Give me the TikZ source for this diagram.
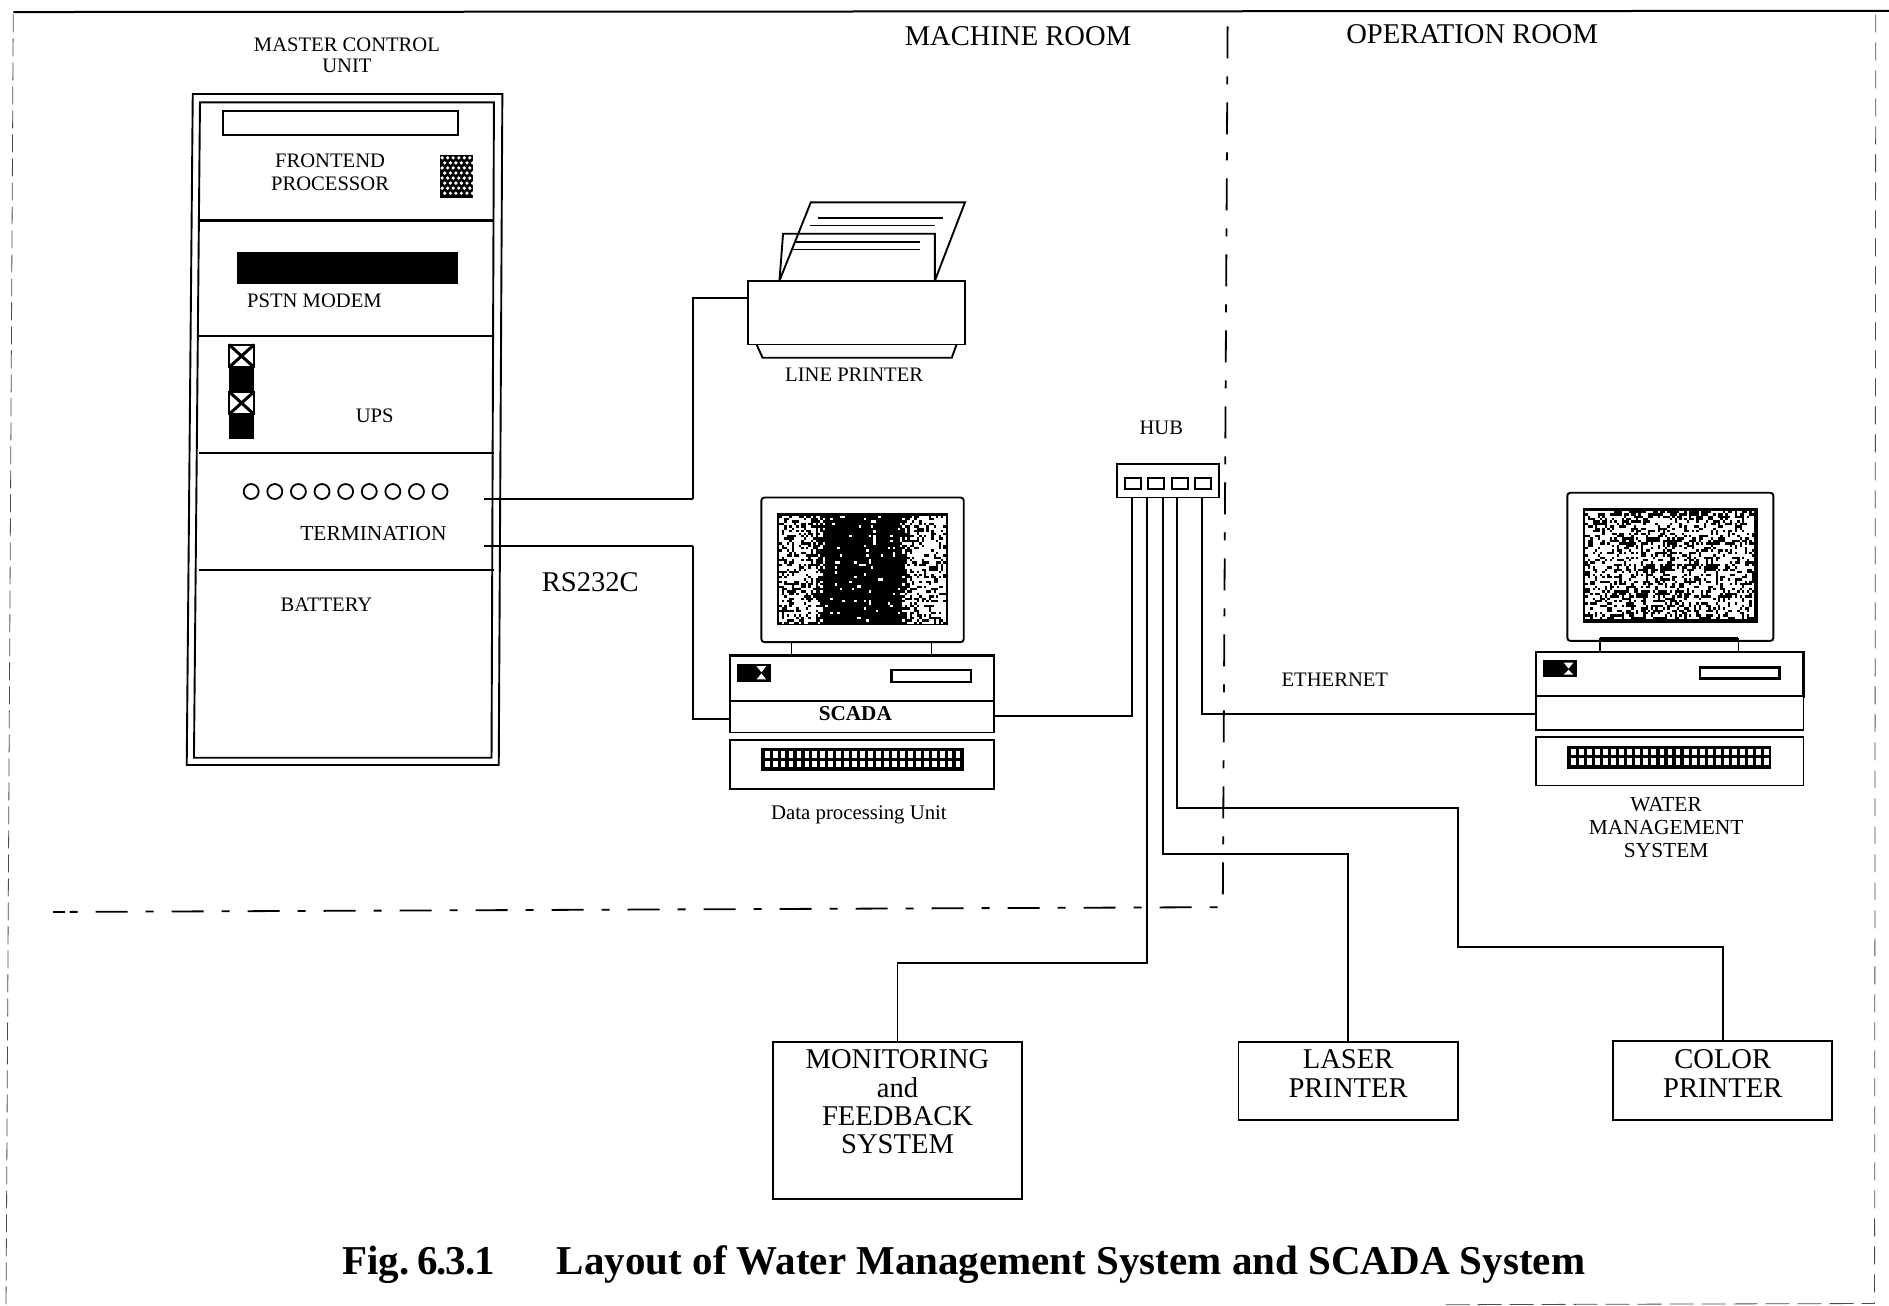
\documentclass[tikz,border=0pt]{standalone}
\usepackage{fontspec}
\setmainfont{Liberation Serif}
\begin{document}
\begin{tikzpicture}[x=0.6024pt,y=-0.6024pt,
  ink/.style={draw=black,line width=0.95pt},
  heavy ink/.style={draw=black,line width=1.25pt},
  thin ink/.style={draw=black,line width=0.65pt},
  wire/.style={draw=black,line width=0.95pt,line join=miter},
  heavy wire/.style={draw=black,line width=1.2pt,line join=miter},
  boundary/.style={draw=black,line width=0.9pt,dash pattern=on 16pt off 9pt on 4pt off 9pt},
  lab/.style={inner sep=0pt,align=center,font=\fontsize{10.3}{11.6}\selectfont},
  widelab/.style={inner sep=0pt,align=center,font=\fontsize{10.7}{11.6}\selectfont},
  big/.style={inner sep=0pt,align=center,font=\fontsize{14.3}{14.2}\selectfont},
  capt/.style={inner sep=0pt,anchor=west,font=\fontsize{20.5}{22}\bfseries\selectfont},
  blockbox/.style={draw=black,line width=0.95pt,inner sep=0pt,fill=white}]
\useasboundingbox (0,0) rectangle (1568,1084);
\fill[white] (0,0) rectangle (1568,1084);
% page marks
\draw[line width=1pt] (11,10) -- (1568,9);
\draw[black!70,line width=0.4pt,dash pattern=on 9pt off 3pt] (11,12) -- (5,1084);
\draw[black!70,line width=0.4pt,dash pattern=on 9pt off 5pt] (1557,12) -- (1556,1082);
\draw[black!70,line width=0.4pt,dash pattern=on 12pt off 4pt] (1200,1083) -- (1556,1082);
% room boundary
\draw[boundary] (1019,22) -- (1015,753) -- (44,757);
\draw[line width=0.9pt] (44,757) -- (54,757);
% rack
\draw[ink] (160,78) -- (417,78) -- (414,635) -- (155,635) -- cycle;
\draw[ink] (166,85) -- (410,85) -- (408,629) -- (161,629) -- cycle;
\foreach \yy in {183,279,376,473} \draw[heavy ink] (165,\yy) -- (410,\yy);
\draw[heavy ink] (185,92) rectangle (380,112);
\fill (365,129) rectangle (393,164);
\foreach \i in {0,...,5} \foreach \j in {0,...,7} {
  \pgfmathtruncatemacro\oddrow{mod(\j,2)}
  \fill[white] ({367+\i*4.6+\oddrow*2.2},{131+\j*4.2}) circle (1.5);
}
\fill (197,209) rectangle (380,236);
\fill (190,286) rectangle (211,364);
\foreach \yy in {286,325} {
  \fill[white] (191,\yy+1) rectangle (210,\yy+18);
  \draw[line width=0.8pt] (190,\yy) rectangle (211,\yy+19);
  \draw[line width=1.5pt] (190,\yy) -- (211,\yy+19) (211,\yy) -- (190,\yy+19);
}
\foreach \i in {0,...,8} \draw[line width=0.9pt] ({208.5+\i*19.6},408) circle (6.2);
\coordinate (termA) at (402,414);
\coordinate (termB) at (402,453);
\node[lab] (tmaster) at (288,46) {MASTER CONTROL\\[-1pt]UNIT};
\node[lab] (tfront) at (274,143) {FRONTEND\\[-0.5pt]PROCESSOR};
\node[lab] (tpstn) at (261,250) {PSTN MODEM};
\node[lab] (tups) at (311,345) {UPS};
\node[widelab] (tterm) at (310,443) {TERMINATION};
\node[lab] (tbatt) at (271,502) {BATTERY};
\node[big] (trs) at (490,483) {RS232C};
% line printer
\node[blockbox,minimum width=180*0.6024pt,minimum height=53*0.6024pt] (lp) at (711,259.5) {};
\draw[ink] (647,233) -- (650,194) -- (776,194) -- (776,233);
\draw[ink] (647,233) -- (673,168) -- (801,168) -- (776,233);
\draw[ink] (628,286) -- (633,297) -- (790,297) -- (794,286);
\draw[thin ink] (679,181) -- (783,181) (672,187) -- (776,187) (661,201) -- (764,201) (658,207) -- (764,207);
\node[lab] (tlp) at (709,311) {LINE PRINTER};
% SCADA computer
\draw[ink,rounded corners=1.5pt] (632,413) rectangle (800,533);
\fill (645,426) rectangle (787,519);
\pgfmathsetseed{17}
\foreach \i in {0,...,68} \foreach \j in {0,...,44} {
  \pgfmathsetmacro\dd{abs(\i-34)/34}
  \pgfmathsetmacro\pw{\dd<0.42?0.05:(\dd<0.62?0.05+(\dd-0.42)*2.8:0.68)}
  \pgfmathparse{rnd<\pw?1:0}
  \ifnum\pgfmathresult=1 \fill[white] ({647+\i*2},{428+\j*2}) rectangle +(2.05,2.05);\fi
}
\draw[thin ink] (657,533) -- (657,544) (773,533) -- (773,544);
\draw[heavy ink] (606,544) rectangle (825,582);
\node[blockbox,minimum width=219*0.6024pt,minimum height=26*0.6024pt] (scada) at (715.5,595) {};
\node[font=\fontsize{10.6}{12}\bfseries\selectfont,inner sep=0pt] (tscada) at (710,592) {SCADA};
\draw[ink] (606,614) rectangle (825,655);
\fill (612,551) rectangle (640,566);
\fill[white] (628,553) -- (632,558) -- (636,553) -- cycle (628,564) -- (632,559) -- (636,564) -- cycle;
\draw[heavy ink] (740,556) rectangle (806,566);
\fill (632,621) rectangle (800,640);
\foreach \i in {0,...,24} {
  \fill[white] ({634.8+\i*6.6},623.5) rectangle +(4,5.5);
  \fill[white] ({634.8+\i*6.6},631.5) rectangle +(4,5.5);
}
\node[font=\fontsize{10.4}{11}\selectfont,inner sep=0pt] (tdp) at (713,676) {Data processing Unit};
% WMS computer
\draw[ink,rounded corners=1.5pt] (1301,409) rectangle (1472,532);
\fill (1314,422) rectangle (1459,517);
\pgfmathsetseed{5}
\foreach \i in {0,...,69} \foreach \j in {0,...,44} {
  \pgfmathsetmacro\pw{(mod(\j,11)<3 && mod(\i+\j,9)<6 && \i>10 && \i<60)?0.22:0.66}
  \pgfmathparse{rnd<\pw?1:0}
  \ifnum\pgfmathresult=1 \fill[white] ({1316+\i*2},{424+\j*2}) rectangle +(2.05,2.05);\fi
}
\draw[line width=1.4pt] (1328,530) -- (1443,530);
\draw[thin ink] (1328,530) -- (1328,541) (1443,530) -- (1443,541);
\draw[heavy ink] (1275,541) rectangle (1497,578);
\node[blockbox,minimum width=222*0.6024pt,minimum height=28*0.6024pt] (wms) at (1386,592) {};
\draw[ink] (1275,612) rectangle (1497,652);
\fill (1281,548) rectangle (1309,562);
\fill[white] (1298,550) -- (1302,555) -- (1306,550) -- cycle (1298,560) -- (1302,556) -- (1306,560) -- cycle;
\draw[heavy ink] (1411,554) rectangle (1477,563);
\fill (1301,619) rectangle (1470,638);
\foreach \i in {0,...,24} {
  \fill[white] ({1303.8+\i*6.7},621.5) rectangle +(4,5.5);
  \fill[white] ({1303.8+\i*6.7},629.5) rectangle +(4,5.5);
}
\node[widelab] (twms) at (1383,687) {WATER\\[-0.2pt]MANAGEMENT\\[-0.2pt]SYSTEM};
\node[lab] (teth) at (1108,564) {ETHERNET};
% hub
\node[blockbox,minimum width=85*0.6024pt,minimum height=28*0.6024pt] (hub) at (969.5,399) {};
\foreach \xx in {934,953,973,992} \draw[line width=1.1pt] (\xx,397) rectangle (\xx+13,406);
\node[lab] (thub) at (964,355) {HUB};
\coordinate (h1) at (940,413);
\coordinate (h2) at (952,413);
\coordinate (h3) at (965,413);
\coordinate (h4) at (977,413);
\coordinate (h5) at (998,413);
% bottom boxes
\node[blockbox,minimum width=206*0.6024pt,minimum height=130*0.6024pt] (mon) at (745,930) {};
\node[blockbox,minimum width=182*0.6024pt,minimum height=65*0.6024pt] (laser) at (1119,897.5) {};
\node[blockbox,minimum width=182*0.6024pt,minimum height=66*0.6024pt] (color) at (1430,897) {};
\node[big,anchor=north] (tmon) at (745,871) {MONITORING\\and\\FEEDBACK\\SYSTEM};
\node[big,anchor=north] (tlaser) at (1119,871) {LASER\\PRINTER};
\node[big,anchor=north] (tcolor) at (1430,871) {COLOR\\PRINTER};
% big labels
\node[big] (tmach) at (845,30) {MACHINE ROOM};
\node[big] (toper) at (1222,28) {OPERATION ROOM};
\node[capt] (fignum) at (284,1050) {Fig.\hspace{3.8pt}6\kern-0.6pt.\kern-0.6pt3\kern-0.6pt.\kern-0.6pt1};
\node[capt] (figcap) at (462,1050) {Layout of Water Management System and SCADA System};
% connectors
\draw[heavy wire] (termA) -- (575,414);
\draw[wire] (575,414) -- (575,247) -- (lp.west |- 0,247);
\draw[heavy wire] (termB) -- (575,453);
\draw[wire] (575,453) -- (575,597) -- (scada.west |- 0,597);
\draw[wire] (h1) -- (940,594) -- (scada.east |- 0,594);
\draw[wire] (h2) -- (952,799) -- (745,799) -- (mon.north);
\draw[wire] (h3) -- (965,709) -- (1119,709) -- (laser.north);
\draw[wire] (h4) -- (977,671) -- (1210,671) -- (1210,786) -- (1430,786) -- (color.north);
\draw[wire] (h5) -- (998,593) -- (wms.west |- 0,593);
\end{tikzpicture}
\end{document}
